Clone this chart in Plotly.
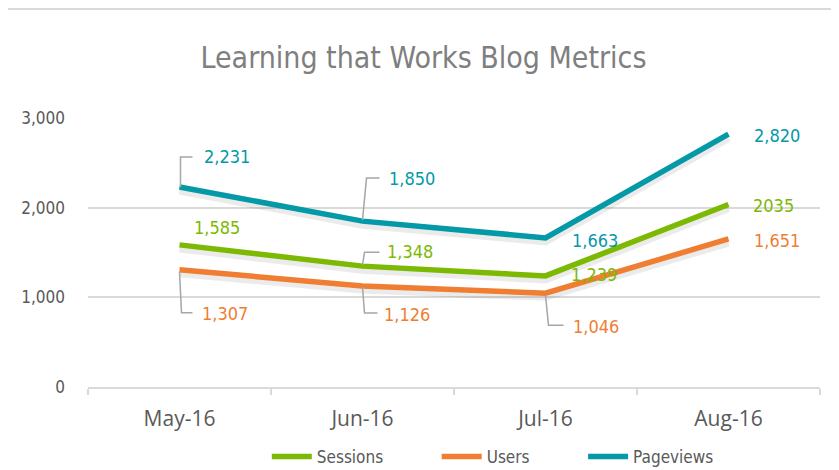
import plotly.graph_objects as go

months = ["May-16", "Jun-16", "Jul-16", "Aug-16"]
sessions = [1585, 1348, 1239, 2035]
users = [1307, 1126, 1046, 1651]
pageviews = [2231, 1850, 1663, 2820]
session_labels = ["1,585", "1,348", "1,239", "2035"]
user_labels = ["1,307", "1,126", "1,046", "1,651"]
pageview_labels = ["2,231", "1,850", "1,663", "2,820"]
y_ticks = [0, 1000, 2000, 3000]
y_ticktext = ["0", "1,000", "2,000", "3,000"]

GREEN = "#7cb902"
ORANGE = "#ef7d32"
TEAL = "#0399a6"
NARROW = "DejaVu Sans Condensed, Liberation Sans Narrow, Arial Narrow, sans-serif"
GRAY = "#595959"
LEADER = "#a6a6a6"

# page body adds an 8px offset, so the figure is 8px smaller than the window
W, H = 831, 462
ML, MR, MT, MB = 80, 19, 110, 83
PLOT_H = H - MT - MB

# label offsets (pixels: dx right, dy up) and optional elbow leader paths
label_style = {
    "Pageviews": [(22, 30, [(1, 0), (1, 30), (13, 30)]),
                  (24, 43, [(0, 1), (4, 43), (17, 43)]),
                  (24, -3, None),
                  (23, -1, None)],
    "Sessions": [(12, 17, None),
                 (22, 15, [(0, 1), (2, 14), (17, 14)]),
                 (23, 1, None),
                 (22, -1, None)],
    "Users": [(20, -44, [(0, -2), (2, -43), (13, -43)]),
              (19, -28, [(0, -1), (2, -27), (15, -27)]),
              (25, -33, [(0, -2), (3, -32), (18, -32)]),
              (23, -2, None)],
}

series = [("Sessions", sessions, session_labels, GREEN),
          ("Users", users, user_labels, ORANGE),
          ("Pageviews", pageviews, pageview_labels, TEAL)]

fig = go.Figure()
# soft shadows under the lines
for name, vals, labs, col in series:
    fig.add_trace(go.Scatter(x=months, y=[v - 40 for v in vals], mode="lines",
                             line=dict(color="rgba(0,0,0,0.08)", width=8),
                             hoverinfo="skip", showlegend=False))
rank = {"Sessions": 1, "Users": 2, "Pageviews": 3}
pad = "\u00a0" * 10
for name, vals, labs, col in [series[2], series[0], series[1]]:
    fig.add_trace(go.Scatter(x=months, y=vals, mode="lines",
                             name=name + (pad if name != "Pageviews" else ""),
                             line=dict(color=col, width=5.5), legendrank=rank[name]))

annotations = []
shapes = []
for name, vals, labs, col in series:
    for i, (v, lab) in enumerate(zip(vals, labs)):
        dx, dy, path = label_style[name][i]
        annotations.append(dict(x=months[i], y=v, xref="x", yref="y", text=lab,
                                showarrow=False, xanchor="left", yanchor="middle",
                                xshift=dx, yshift=dy,
                                font=dict(family=NARROW, size=18, color=col)))
        if path:
            p = "M" + " L".join(f"{px},{py}" for px, py in path)
            shapes.append(dict(type="path", xref="x", yref="y", xsizemode="pixel",
                               ysizemode="pixel", xanchor=i, yanchor=v, path=p,
                               line=dict(color=LEADER, width=1.5), layer="above"))

# top border line of the chart frame
top_y = (PLOT_H + MT - 1) / PLOT_H
shapes.append(dict(type="line", xref="paper", yref="paper", x0=-0.2, x1=1.1,
                   y0=top_y, y1=top_y, line=dict(color="#d9d9d9", width=2)))

fig.update_layout(
    width=W, height=H,
    margin=dict(l=ML, r=MR, t=MT, b=MB, autoexpand=False),
    paper_bgcolor="white", plot_bgcolor="white",
    title=dict(text="Learning that Works Blog Metrics", x=0.5,
               xanchor="center", y=1 - 49 / H, yanchor="middle", yref="container",
               font=dict(family=NARROW, size=30, color="#7f7f7f")),
    xaxis=dict(type="category", range=[-0.5, 3.5], tickson="boundaries",
               ticks="outside", ticklen=6, tickcolor="#d9d9d9", tickwidth=1.5,
               showline=True, linecolor="#d9d9d9", linewidth=2, showgrid=False,
               ticklabelstandoff=12,
               tickfont=dict(family="Open Sans, Lato, sans-serif", size=21, color=GRAY)),
    yaxis=dict(range=[0, 3000], tickvals=y_ticks, ticktext=y_ticktext,
               showgrid=True, gridcolor="#d9d9d9", gridwidth=1.5, zeroline=False,
               ticks="", ticklabelstandoff=22,
               tickfont=dict(family=NARROW, size=17, color=GRAY)),
    legend=dict(orientation="h", x=0.553, xanchor="center", y=-70 / PLOT_H, yanchor="middle",
                font=dict(family=NARROW, size=17, color=GRAY), itemwidth=40,
                traceorder="normal"),
    annotations=annotations, shapes=shapes,
    showlegend=True,
)

fig.write_html("out.html")
